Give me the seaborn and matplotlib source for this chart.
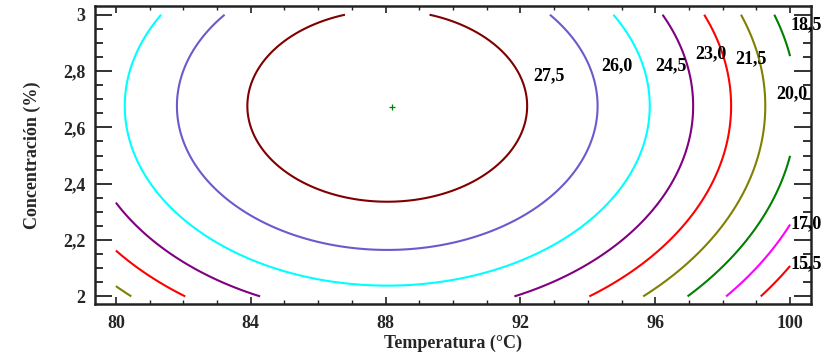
import numpy as np
import matplotlib
matplotlib.use("Agg")
import matplotlib.pyplot as plt
from matplotlib.ticker import MultipleLocator, FixedLocator
import seaborn as sns

# ---- data -----------------------------------------------------------------
# response-surface model (quadratic), estimated from the contour positions
peak_value = 28.69
temp_center = 88.05
conc_center = 2.676
temp_curvature = 0.0691
conc_curvature = 10.3

temp_range = [80.0, 100.0]
conc_range = [2.0, 3.0]

levels = [15.5, 17.0, 18.5, 20.0, 21.5, 23.0, 24.5, 26.0, 27.5]
level_colors = ["#ff0000", "#ff00ff", "#008000", "#808000", "#ff0000",
                "#800080", "#00ffff", "#6a5acd", "#800000"]
level_labels = ["15,5", "17,0", "18,5", "20,0", "21,5",
                "23,0", "24,5", "26,0", "27,5"]

optimum_temp = [88.2]
optimum_conc = [2.673]

x_ticks = [80, 84, 88, 92, 96, 100]
x_ticklabels = ["80", "84", "88", "92", "96", "100"]
y_ticks = [2.0, 2.2, 2.4, 2.6, 2.8, 3.0]
y_ticklabels = ["2", "2,2", "2,4", "2,6", "2,8", "3"]

# ---- label placement (layout) ----------------------------------------------
label_temp = [100.0, 100.0, 100.0, 99.6, 98.37, 97.18, 96.0, 94.41, 92.37]
label_conc = [2.117, 2.257, 2.963, 2.718, 2.842, 2.863, 2.819, 2.819, 2.782]

# ---- figure ---------------------------------------------------------------
sns.set_style("white")
plt.rcParams["font.family"] = ["Liberation Serif", "DejaVu Serif"]
plt.rcParams["font.weight"] = "bold"

fig = plt.figure(figsize=(8.34, 3.55), dpi=100)
ax = fig.add_axes([0.1139, 0.1437, 0.9724 - 0.1139, 0.9831 - 0.1437])

T = np.linspace(temp_range[0], temp_range[1], 400)
C = np.linspace(conc_range[0], conc_range[1], 400)
TT, CC = np.meshgrid(T, C)
Z = (peak_value - temp_curvature * (TT - temp_center) ** 2
     - conc_curvature * (CC - conc_center) ** 2)

ax.contour(TT, CC, Z, levels=levels, colors=level_colors, linewidths=1.5)

for t, c, s in zip(label_temp, label_conc, level_labels):
    ax.text(t, c, s, ha="left", va="center", fontsize=13, fontweight="bold",
            color="black", clip_on=False, zorder=5)

sns.scatterplot(x=optimum_temp, y=optimum_conc, marker="+", color="#008000",
                s=25, linewidth=0.9, ax=ax, zorder=6)

ax.set_xlim(79.38, 100.62)
ax.set_ylim(1.973, 3.031)
ax.xaxis.set_major_locator(FixedLocator(x_ticks))
ax.set_xticklabels(x_ticklabels)
ax.yaxis.set_major_locator(FixedLocator(y_ticks))
ax.set_yticklabels(y_ticklabels)
ax.xaxis.set_minor_locator(MultipleLocator(1))
ax.yaxis.set_minor_locator(MultipleLocator(0.05))

ax.tick_params(axis="y", which="major", direction="in", length=12, width=1.3,
               left=True, right=True, labelsize=13, pad=7, color="#222222")
ax.tick_params(axis="y", which="minor", direction="in", length=6, width=1.3,
               left=True, right=True, color="#222222")
ax.tick_params(axis="x", which="major", direction="in", length=5, width=1.2,
               top=True, bottom=True, labelsize=13, pad=8, color="#222222")
ax.tick_params(axis="x", which="minor", direction="in", length=3, width=1.0,
               top=True, bottom=True, color="#222222")
for lab in ax.get_xticklabels() + ax.get_yticklabels():
    lab.set_fontweight("bold")

for sp in ax.spines.values():
    sp.set_visible(True)
    sp.set_linewidth(1.8)
    sp.set_color("#222222")

ax.set_xlabel("Temperatura (°C)", fontsize=13, fontweight="bold", labelpad=2)
ax.set_ylabel("Concentración (%)", fontsize=13, fontweight="bold", labelpad=16)

fig.savefig("out.png", dpi=100)
